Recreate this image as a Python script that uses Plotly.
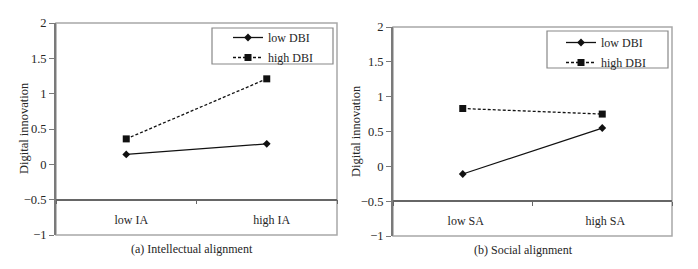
import plotly.graph_objects as go

# ---- data ----
categories_a = ["low IA", "high IA"]
categories_b = ["low SA", "high SA"]
low_dbi_a = [0.14, 0.29]
high_dbi_a = [0.36, 1.21]
low_dbi_b = [-0.11, 0.55]
high_dbi_b = [0.83, 0.75]
series_names = ["low DBI", "high DBI"]
y_title = "Digital innovation"
captions = ["(a) Intellectual alignment", "(b) Social alignment"]

W, H = 698, 269
FONT = "Liberation Serif, Times New Roman, serif"
TXT = "#262626"

def px_x(p):
    return p / W

def px_y(p):
    return 1 - p / H

# domains (paper fractions)
xa_dom = [px_x(56), px_x(337)]
ya_dom = [px_y(235), px_y(23)]
xb_dom = [px_x(393), px_x(672)]
yb_dom = [px_y(236), px_y(27)]
YR = [-1, 2]

def cross_pos(ydom):
    # paper position of y = -0.5 inside the y domain
    return ydom[0] + (ydom[1] - ydom[0]) * (-0.5 - YR[0]) / (YR[1] - YR[0])

fig = go.Figure()

def add_panel(cats, low, high, xa, ya, leg):
    fig.add_trace(go.Scatter(
        x=cats, y=low, name=series_names[0], mode="lines+markers",
        line=dict(color="#111111", width=1.3),
        marker=dict(symbol="diamond", size=6, color="#111111"),
        xaxis=xa, yaxis=ya, legend=leg, legendgroup=leg + "a"))
    fig.add_trace(go.Scatter(
        x=cats, y=high, name=series_names[1], mode="lines+markers",
        line=dict(color="#111111", width=1.3, dash="3px,2px"),
        marker=dict(symbol="square", size=7, color="#111111"),
        xaxis=xa, yaxis=ya, legend=leg, legendgroup=leg + "b"))

add_panel(categories_a, low_dbi_a, high_dbi_a, "x", "y", "legend")
add_panel(categories_b, low_dbi_b, high_dbi_b, "x2", "y2", "legend2")

xcommon = dict(type="category", range=[-0.5, 1.5], anchor="free",
               showline=True, linecolor="#666666", linewidth=1.5,
               ticks="outside", tickson="boundaries", ticklen=4,
               tickcolor="#666666", showgrid=False, zeroline=False,
               ticklabelstandoff=9, automargin=False,
               tickfont=dict(family=FONT, size=12, color=TXT))
ycommon = dict(range=YR, dtick=0.5, tick0=0, showline=True,
               linecolor="#7a7a7a", linewidth=2, ticks="outside",
               ticklen=5, tickcolor="#7a7a7a", showgrid=False,
               zeroline=False, automargin=False,
               tickfont=dict(family=FONT, size=12.5, color=TXT))

fig.update_layout(
    width=W, height=H,
    margin=dict(l=0, r=0, t=0, b=0, pad=0, autoexpand=False),
    paper_bgcolor="white", plot_bgcolor="white",
    font=dict(family=FONT, size=12, color=TXT),
    xaxis=dict(domain=xa_dom, position=cross_pos(ya_dom), ticklabelshift=5,
               **xcommon),
    yaxis=dict(domain=ya_dom, anchor="x", **ycommon),
    xaxis2=dict(domain=xb_dom, position=cross_pos(yb_dom), ticklabelshift=3,
                **xcommon),
    yaxis2=dict(domain=yb_dom, anchor="x2", **ycommon),
    legend=dict(x=px_x(228), y=px_y(23), xanchor="left", yanchor="top",
                bgcolor="rgba(0,0,0,0)", borderwidth=0, tracegroupgap=1,
                font=dict(family=FONT, size=12, color=TXT)),
    legend2=dict(x=px_x(561), y=px_y(28), xanchor="left", yanchor="top",
                 bgcolor="rgba(0,0,0,0)", borderwidth=0, tracegroupgap=1,
                 font=dict(family=FONT, size=12, color=TXT)),
    shapes=[
        dict(type="rect", xref="x domain", yref="y domain", x0=0, x1=1,
             y0=0, y1=1, line=dict(color="#a8a8a8", width=1.5), layer="below"),
        dict(type="rect", xref="x2 domain", yref="y2 domain", x0=0, x1=1,
             y0=0, y1=1, line=dict(color="#a8a8a8", width=1.5), layer="below"),
        dict(type="rect", xref="paper", yref="paper",
             x0=px_x(212), x1=px_x(333), y0=px_y(64), y1=px_y(28),
             line=dict(color="#888888", width=1.2), fillcolor="white",
             layer="below"),
        dict(type="rect", xref="paper", yref="paper",
             x0=px_x(547), x1=px_x(668), y0=px_y(68), y1=px_y(31),
             line=dict(color="#888888", width=1.2), fillcolor="white",
             layer="below"),
    ],
    annotations=[
        dict(text=captions[0], xref="paper", yref="paper", x=px_x(192),
             y=px_y(249), showarrow=False, xanchor="center", yanchor="middle",
             font=dict(family=FONT, size=12, color=TXT)),
        dict(text=captions[1], xref="paper", yref="paper", x=px_x(523),
             y=px_y(250), showarrow=False, xanchor="center", yanchor="middle",
             font=dict(family=FONT, size=12, color=TXT)),
        dict(text=y_title, xref="paper", yref="paper", x=px_x(24),
             y=px_y(128), showarrow=False, textangle=-90,
             xanchor="center", yanchor="middle",
             font=dict(family=FONT, size=12.5, color=TXT)),
        dict(text=y_title, xref="paper", yref="paper", x=px_x(356),
             y=px_y(131), showarrow=False, textangle=-90,
             xanchor="center", yanchor="middle",
             font=dict(family=FONT, size=12.5, color=TXT)),
    ],
)

fig.write_html(
    "out.html",
    config={"displayModeBar": False},
    post_script="document.body.style.margin='0';"
                "document.body.style.padding='0';"
                "document.body.style.overflow='hidden';",
)
